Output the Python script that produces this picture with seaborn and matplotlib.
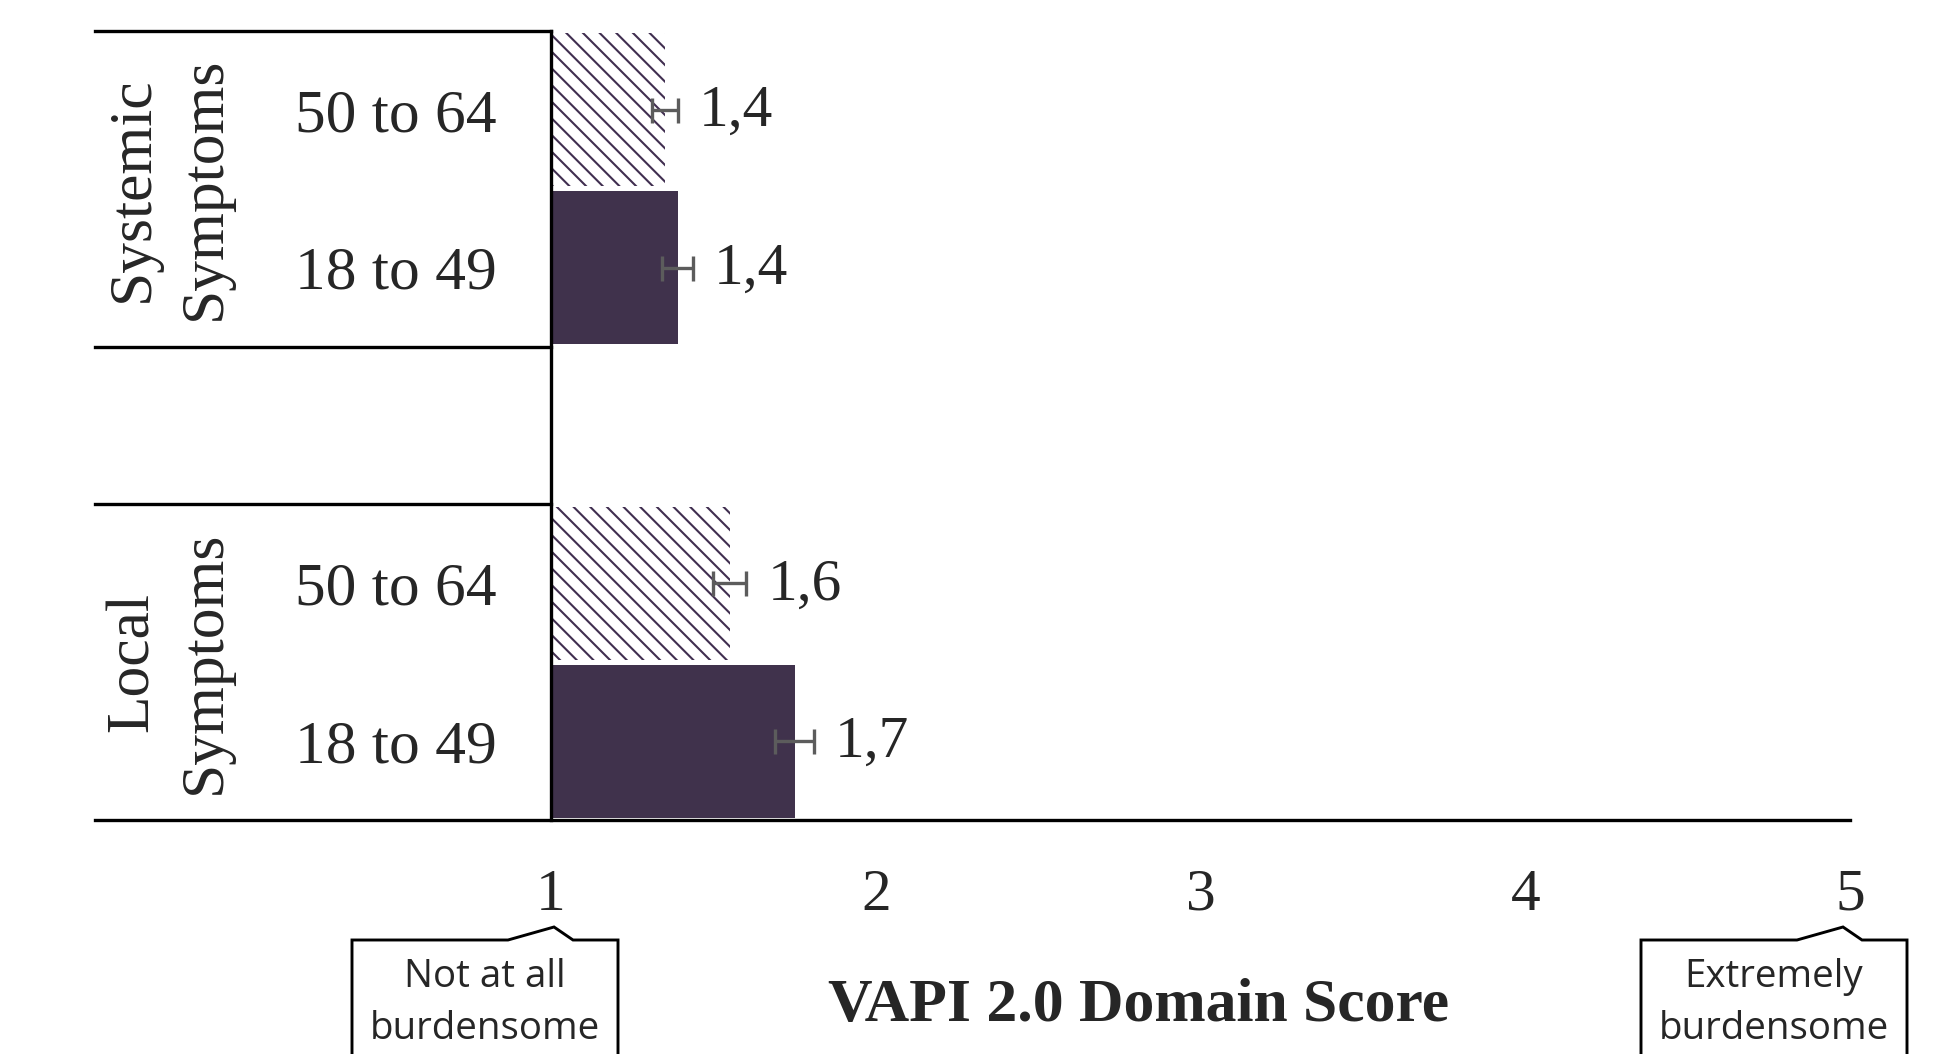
import numpy as np
import pandas as pd
import matplotlib
matplotlib.use("Agg")
import matplotlib.pyplot as plt
import seaborn as sns

# data
groups = ["Local\nSymptoms", "Systemic\nSymptoms"]
ages = ["18 to 49", "50 to 64", "18 to 49", "50 to 64"]
positions = [0, 1, 3, 4]
means = [1.75, 1.55, 1.39, 1.35]
errs = [0.06, 0.052, 0.048, 0.04]
value_labels = ["1,7", "1,6", "1,4", "1,4"]
xticks = [1, 2, 3, 4, 5]
purple = "#402e50"

sns.set_style("white")
plt.rcParams["font.family"] = ["Liberation Serif", "DejaVu Serif"]
plt.rcParams["hatch.linewidth"] = 1.0

W, H, DPI = 1949, 1054, 150
fig = plt.figure(figsize=(W / DPI, H / DPI), dpi=DPI)
ax = fig.add_axes([551 / W, 1 - 820 / H, 1299 / W, 789 / H])

df = pd.DataFrame({"score": means, "pos": positions, "age": ages})
sns.barplot(data=df, x="score", y="pos", hue="age", orient="y", native_scale=True,
            dodge=False, width=0.97, palette={"18 to 49": purple, "50 to 64": "white"},
            errorbar=None, legend=False, ax=ax)

for p in ax.patches:
    yc = p.get_y() + p.get_height() / 2
    i = int(np.argmin([abs(yc - q) for q in positions]))
    p.set_linewidth(0)
    if ages[i] == "50 to 64":
        p.set_facecolor("white")
        p.set_edgecolor(purple)
        p.set_hatch("\\\\\\")

ax.errorbar(x=means, y=positions, xerr=errs, fmt="none", ecolor="#5c5c5c",
            elinewidth=1.6, capsize=6, capthick=1.6, zorder=3)

for m, e, p, lab in zip(means, errs, positions, value_labels):
    ax.annotate(lab, xy=(m + e, p), xytext=(10, -1), textcoords="offset points",
                va="center", ha="left", fontsize=28.5)

ax.set_xlim(1, 5)
ax.set_ylim(-0.5, 4.5)
ax.set_xticks(xticks)
ax.set_xticklabels([str(t) for t in xticks], fontsize=28.5)
ax.set_yticks(positions)
ax.set_yticklabels(ages, fontsize=29.5)
ax.tick_params(axis="x", length=0, pad=23.5)
ax.tick_params(axis="y", length=0, pad=26)
ax.set_xlabel("")
ax.set_ylabel("")

for s in ["top", "right", "bottom"]:
    ax.spines[s].set_visible(False)
ax.spines["left"].set_linewidth(1.6)
ax.spines["left"].set_color("black")

# group frame lines on the left
ytr = ax.get_yaxis_transform()
ax.plot([-0.351, 1.0], [-0.5, -0.5], color="black", lw=1.6, transform=ytr,
        clip_on=False, solid_capstyle="projecting")
for yy in [1.5, 2.5, 4.5]:
    ax.plot([-0.351, 0], [yy, yy], color="black", lw=1.6, transform=ytr,
            clip_on=False, solid_capstyle="projecting")

for g, yc in zip(groups, [0.5, 3.5]):
    ax.text(-0.294, yc, g, transform=ytr, rotation=90, ha="center", va="center",
            fontsize=29.5, multialignment="center", linespacing=1.38)

ax.text(2.81, 1 - 1006 / H, "VAPI 2.0 Domain Score",
        transform=matplotlib.transforms.blended_transform_factory(ax.transData, fig.transFigure),
        fontsize=29.6, fontweight="bold", ha="center", va="center")


def callout(anchor_px, text):
    xs = np.array([-202, -202, -46, 0, 19, 64, 64]) + anchor_px
    ys = np.array([1070, 940, 940, 927, 940, 940, 1070])
    fig.add_artist(plt.Line2D(xs / W, 1 - ys / H, color="black", lw=1.4,
                              transform=fig.transFigure, solid_joinstyle="miter"))
    fig.text((anchor_px - 69) / W, 1 - 1003 / H, text, ha="center", va="center",
             fontsize=18.5, family=["Open Sans", "DejaVu Sans"], linespacing=1.45)


fig.canvas.draw()
x1 = ax.transData.transform((1, 0))[0]
x5 = ax.transData.transform((5, 0))[0]
callout(x1 + 3, "Not at all\nburdensome")
callout(x5 - 7, "Extremely\nburdensome")

fig.savefig("out.png", dpi=DPI)
